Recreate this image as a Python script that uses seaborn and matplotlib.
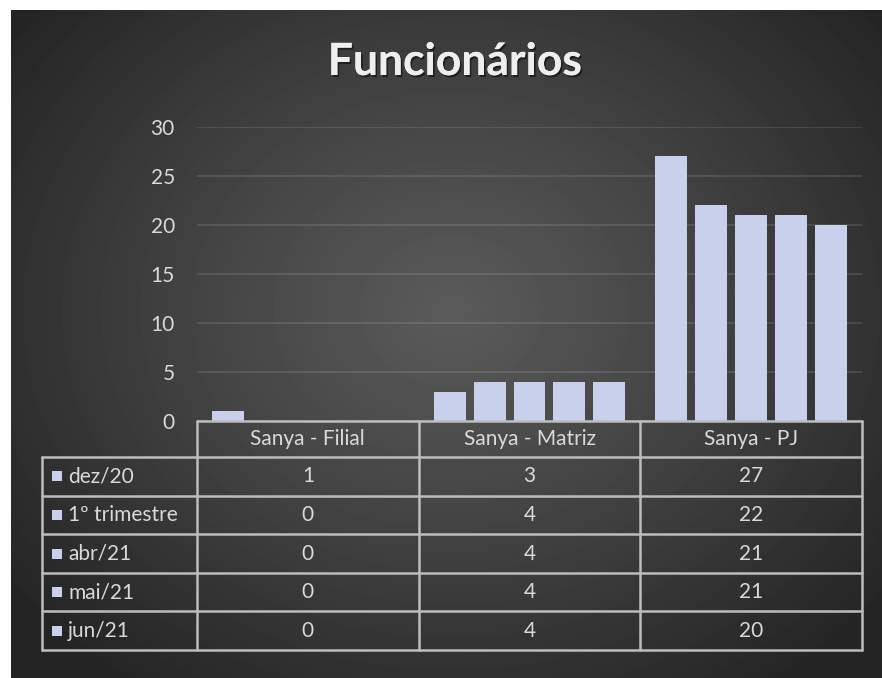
import numpy as np
import pandas as pd
import seaborn as sns
import matplotlib.pyplot as plt
import matplotlib.patheffects as pe

# dados do gráfico
grupos = ['Sanya - Filial', 'Sanya - Matriz', 'Sanya - PJ']
periodos = ['dez/20', '1º trimestre', 'abr/21', 'mai/21', 'jun/21']
filial = [1, 0, 0, 0, 0]
matriz = [3, 4, 4, 4, 4]
pj = [27, 22, 21, 21, 20]

W, H = 882, 678
cor_barra = '#c9d0ec'
cor_texto = '#d9d9d9'
cor_linha = '#bdbdbd'

sns.set_theme(style='dark')
plt.rcParams['font.family'] = ['Lato', 'DejaVu Sans']

df = pd.DataFrame({
    'grupo': np.repeat(grupos, len(periodos)),
    'periodo': periodos * len(grupos),
    'valor': filial + matriz + pj,
})

fig = plt.figure(figsize=(W / 100, H / 100), dpi=100)
fig.patch.set_facecolor('white')

# fundo com gradiente radial
bg = fig.add_axes([11 / W, 0, 1 - 11 / W, 1 - 10 / H])
yy, xx = np.mgrid[0:668, 0:871]
r = np.hypot((xx - 440) / 560, (yy - 300) / 470)
shade = 90 - (90 - 36) * np.clip(r, 0, 1) ** 1.1
bg.imshow(shade, cmap='gray', vmin=0, vmax=255, aspect='auto', interpolation='bilinear')
bg.set_axis_off()

# área do gráfico
ax = fig.add_axes([197 / W, (H - 421) / H, (862 - 197) / W, (421 - 127) / H])
ax.set_facecolor('none')
sns.barplot(data=df, x='grupo', y='valor', hue='periodo', palette=[cor_barra] * 5,
            width=0.9, gap=0.2, saturation=1, legend=False, ax=ax, zorder=3,
            linewidth=0, edgecolor='none')
ax.set_xlim(-0.5, 2.5)
ax.set_ylim(0, 30)
ax.set_yticks(range(0, 31, 5))
ax.set_xticks([])
ax.set_xlabel('')
ax.set_ylabel('')
ax.grid(axis='y', color='white', alpha=0.12, linewidth=1.3)
ax.tick_params(axis='y', length=0, pad=16, labelsize=15, labelcolor=cor_texto)
for s in ax.spines.values():
    s.set_visible(False)

# tabela de dados
tb = fig.add_axes([0, 0, 1, 1])
tb.set_xlim(0, W)
tb.set_ylim(H, 0)
tb.set_axis_off()

to_px = lambda x: ax.transData.transform((x, 0))[0]
col_x = [to_px(x) for x in np.arange(len(grupos) + 1) - 0.5]
x_left = 42
y_top = 421
y_rows = [457 + 38.6 * k for k in range(len(periodos) + 1)]

lw = 1.8
tb.plot([col_x[0], col_x[-1]], [y_top, y_top], color=cor_linha, lw=lw)
for y in y_rows:
    tb.plot([x_left, col_x[-1]], [y, y], color=cor_linha, lw=lw)
for x in col_x:
    tb.plot([x, x], [y_top, y_rows[-1]], color=cor_linha, lw=lw)
tb.plot([x_left, x_left], [y_rows[0], y_rows[-1]], color=cor_linha, lw=lw)

for i, g in enumerate(grupos):
    xc = (col_x[i] + col_x[i + 1]) / 2
    tb.text(xc, (y_top + y_rows[0]) / 2, g, ha='center', va='center',
            fontsize=15, color=cor_texto)

valores = [filial, matriz, pj]
for j, p in enumerate(periodos):
    yc = (y_rows[j] + y_rows[j + 1]) / 2
    tb.scatter([57], [yc], marker='s', s=55, color=cor_barra, linewidths=0, zorder=4)
    tb.text(68, yc, p, ha='left', va='center', fontsize=15, color=cor_texto)
    for i in range(len(grupos)):
        xc = (col_x[i] + col_x[i + 1]) / 2
        tb.text(xc, yc, str(valores[i][j]), ha='center', va='center',
                fontsize=15, color=cor_texto)

fig.text(455 / W, 1 - 75 / H, 'Funcionários', ha='center', va='baseline',
         fontsize=32, fontweight='bold', color='#eeeeee',
         path_effects=[pe.withSimplePatchShadow(offset=(1.2, -1.5), shadow_rgbFace='black', alpha=0.5),
                       pe.Normal()])

fig.savefig('out.png', dpi=100)
